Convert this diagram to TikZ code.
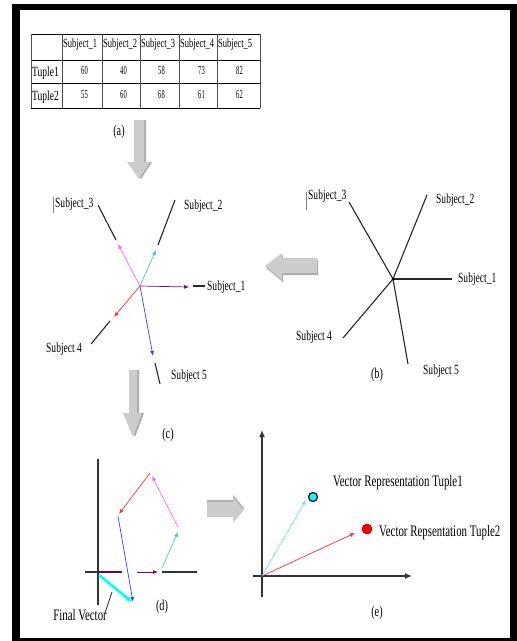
\documentclass[tikz,border=0pt]{standalone}
\usepackage{fontspec}
\setmainfont{Liberation Serif}[FakeStretch=0.68]
\newfontfamily\numfont{Liberation Serif}[FakeStretch=0.55]
\usetikzlibrary{arrows.meta}
\definecolor{vpurple}{RGB}{128,0,128}
\definecolor{dpurple}{RGB}{100,0,100}
\definecolor{vcyan}{RGB}{60,200,210}
\definecolor{vmagenta}{RGB}{255,100,255}
\definecolor{vred}{RGB}{255,50,50}
\definecolor{vblue}{RGB}{60,60,255}
\definecolor{ecyan}{RGB}{100,225,255}
\definecolor{bcyan}{RGB}{0,255,255}
\definecolor{bred}{RGB}{255,0,0}
\tikzset{
  lbl/.style={font=\fontsize{14}{15}\selectfont,inner sep=0pt,anchor=west},
  hdr/.style={font=\fontsize{12.5}{13}\selectfont,inner sep=0pt,anchor=west},
  num/.style={font=\numfont\fontsize{12}{13}\selectfont,inner sep=0pt,anchor=east},
  captxt/.style={font=\fontsize{15}{16}\selectfont,inner sep=0pt},
  vectxt/.style={font=\fontsize{16}{17}\selectfont,inner sep=0pt},
  vec/.style={-{Latex[length=5pt,width=4pt]},line width=0.7pt},
  spoke/.style={line width=1.1pt,black!85},
  axis/.style={line width=1.4pt,black!80},
  blk/.style={fill=gray!40},
  blkshadow/.style={fill=gray!65},
}
\begin{document}
\begin{tikzpicture}[x=1pt,y=-1pt]
\useasboundingbox (0,0) rectangle (517,641);
\fill[white] (0,0) rectangle (517,641);
\fill[black] (12,4) rectangle (517,641);
\fill[white] (20,10) rectangle (510,638);
% table (a)
\foreach \y in {34,60,83,108} \draw[line width=0.8pt] (31,\y) -- (260,\y);
\foreach \x in {31,62,102,140,179,217,260} \draw[line width=0.8pt,gray!60!black] (\x,34) -- (\x,108);
\foreach \x/\n in {63/1,103/2,141/3,180/4,218/5} \node[hdr] (h\n) at (\x,44) {Subject\_\n};
\node[lbl] (r1) at (32,73) {Tuple1};
\node[lbl] (r2) at (32,97) {Tuple2};
\foreach \x/\a/\b [count=\i] in {88/60/55,127/40/60,165/58/68,205/73/61,243/82/62} {
  \node[num] (t1\i) at (\x,71) {\a};
  \node[num] (t2\i) at (\x,95) {\b};
}
\node[captxt] (capa) at (119,132) {(a)};
% grey block arrows
\fill[blkshadow,xshift=2pt] (134,120) -- (144,120) -- (144,162) -- (150,162) -- (139,179) -- (127,162) -- (134,162) -- cycle;
\fill[blk] (134,120) -- (144,120) -- (144,162) -- (150,162) -- (139,179) -- (127,162) -- (134,162) -- cycle;
\fill[blkshadow,xshift=2pt] (129,370) -- (137,370) -- (137,413) -- (142,413) -- (133,437) -- (123,413) -- (129,413) -- cycle;
\fill[blk] (129,370) -- (137,370) -- (137,413) -- (142,413) -- (133,437) -- (123,413) -- (129,413) -- cycle;
\fill[blkshadow,xshift=1pt,yshift=-2pt] (265,266) -- (282,253) -- (282,258) -- (317,258) -- (317,273) -- (282,273) -- (282,280) -- cycle;
\fill[blk] (265,266) -- (282,253) -- (282,258) -- (317,258) -- (317,273) -- (282,273) -- (282,280) -- cycle;
\fill[blkshadow,yshift=2pt] (207,502) -- (233,502) -- (233,497) -- (244,510) -- (233,523) -- (233,517) -- (207,517) -- cycle;
\fill[blk] (207,502) -- (233,502) -- (233,497) -- (244,510) -- (233,523) -- (233,517) -- (207,517) -- cycle;
% star (b)
\coordinate (b0) at (393,279);
\coordinate (b1) at (452,279);
\coordinate (b2) at (427,195);
\coordinate (b3) at (349,202);
\coordinate (b4) at (343,338);
\coordinate (b5) at (408,364);
\foreach \i in {1,...,5} \draw[spoke] (b0) -- (b\i);
\fill (b0) circle (1.5pt);
\node[lbl] (bl1) at (458,279) {Subject\_1};
\node[lbl] (bl2) at (436,200) {Subject\_2};
\node[lbl] (bl3) at (308,196) {Subject\_3};
\node[lbl] (bl4) at (296,337) {Subject 4};
\node[lbl] (bl5) at (423,371) {Subject 5};
\draw[gray,line width=0.8pt] (306,192) -- (306,210);
\node[captxt] (capb) at (377,375) {(b)};
% star (c)
\coordinate (c0) at (140,286);
\coordinate (c1) at (189,287);
\coordinate (c2) at (156,250);
\coordinate (c3) at (118,244);
\coordinate (c4) at (114,317);
\coordinate (c5) at (153,356);
\draw[vec,vpurple] (c0) -- (c1);
\draw[vec,vcyan] (c0) -- (c2);
\draw[vec,vmagenta] (c0) -- (c3);
\draw[vec,vred] (c0) -- (c4);
\draw[vec,vblue] (c0) -- (c5);
\coordinate (s1a) at (193,286); \coordinate (s1b) at (205,286);
\coordinate (s2a) at (158,245); \coordinate (s2b) at (175,200);
\coordinate (s3a) at (116,240); \coordinate (s3b) at (98,205);
\coordinate (s4a) at (110,321); \coordinate (s4b) at (91,344);
\coordinate (s5a) at (155,363); \coordinate (s5b) at (160,384);
\foreach \i in {1,...,5} \draw[spoke] (s\i a) -- (s\i b);
\node[lbl] (cl1) at (207,287) {Subject\_1};
\node[lbl] (cl2) at (184,206) {Subject\_2};
\node[lbl] (cl3) at (55,204) {Subject\_3};
\node[lbl] (cl4) at (46,349) {Subject 4};
\node[lbl] (cl5) at (171,376) {Subject 5};
\draw[gray,line width=0.8pt] (53,197) -- (53,213);
\node[captxt] (capc) at (168,435) {(c)};
% chained vectors (d)
\coordinate (dy0) at (98,459); \coordinate (dy1) at (98,605);
\coordinate (dx0) at (85,572); \coordinate (dx1) at (122,572);
\coordinate (dx2) at (162,572); \coordinate (dx3) at (197,572);
\draw[axis] (dy0) -- (dy1);
\draw[axis] (dx0) -- (dx1);
\draw[axis] (dx2) -- (dx3);
\draw[dpurple,line width=2.4pt] (98,572) -- (121,572);
\draw[vec,vpurple] (137,572) -- (158,572);
\draw[vec,vcyan] (162,568) -- (178,532);
\draw[vec,vmagenta] (178,527) -- (152,476);
\draw[vec,vred] (150,473) -- (119,514);
\draw[vec,vblue] (118,516) -- (133,602);
\draw[-{Latex[length=6pt,width=6pt]},bcyan,line width=2.6pt] (99,575) -- (132,602);
\node[vectxt,anchor=east] (fv) at (107,615) {Final Vector};
\coordinate (fvtip) at (112,592);
\draw[black!80,line width=0.8pt] (105,613) -- (fvtip);
\node[captxt] (capd) at (162,607) {(d)};
% vector space (e)
\coordinate (eo) at (262,576);
\draw[axis,-{Latex[length=7pt,width=6pt]}] (262,597) -- (262,430);
\draw[axis,-{Latex[length=7pt,width=6pt]}] (253,576) -- (412,576);
\node[circle,fill=bcyan,draw=black,line width=1.2pt,minimum size=9pt,inner sep=0pt] (p1) at (313,497) {};
\node[circle,fill=bred,draw=red!60!black,line width=0.5pt,minimum size=10pt,inner sep=0pt] (p2) at (367,529) {};
\draw[vec,ecyan] (eo) -- (306,500);
\draw[vec,vred] (eo) -- (355,533);
\node[vectxt,anchor=west] (v1) at (333,483) {Vector Representation Tuple1};
\node[vectxt,anchor=west] (v2) at (379,533) {Vector Repsentation Tuple2};
\node[captxt] (cape) at (377,613) {(e)};
\end{tikzpicture}
\end{document}
